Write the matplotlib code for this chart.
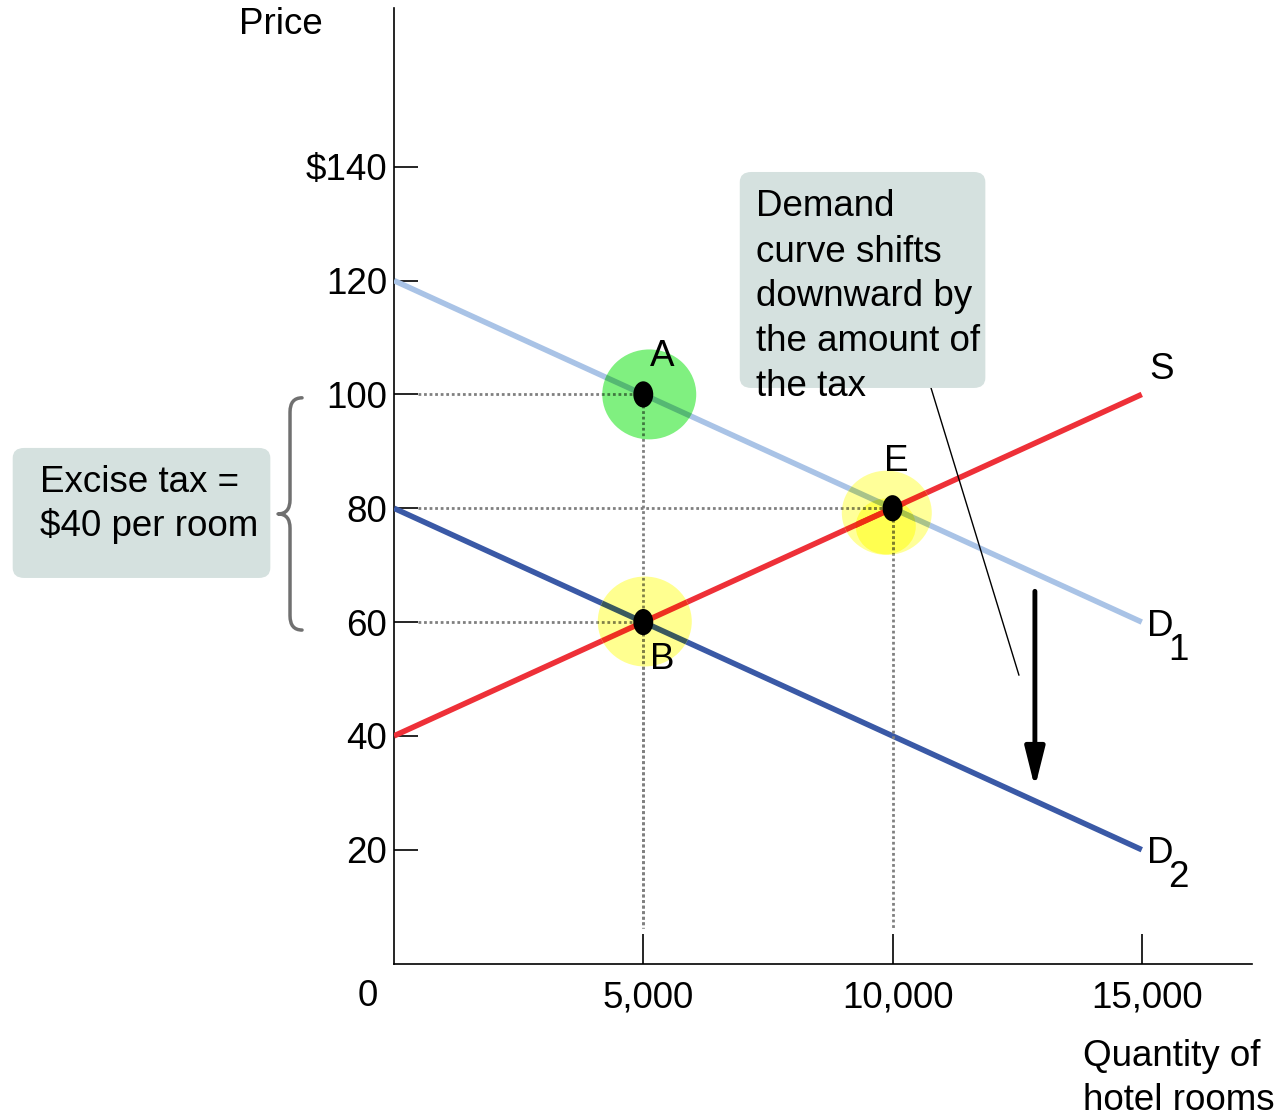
import matplotlib
matplotlib.use("Agg")
import matplotlib.pyplot as plt
import matplotlib.transforms as mtransforms
from matplotlib.colors import to_rgb
from matplotlib.patches import Ellipse, FancyBboxPatch, FancyArrowPatch, PathPatch
from matplotlib.path import Path

plt.rcParams["font.family"] = ["Liberation Sans", "DejaVu Sans"]
FS = 26.5

# --- data -------------------------------------------------------------
quantity = [0, 15000]
demand_before = [120, 60]      # D1
demand_after = [80, 20]        # D2 (shifted down by the tax)
supply = [40, 100]             # S

point_names = ["A", "E", "B"]
point_q = [5000, 10000, 5000]
point_p = [100, 80, 60]

tax = 40

y_ticks = [20, 40, 60, 80, 100, 120, 140]
y_tick_labels = ["20", "40", "60", "80", "100", "120", "$140"]
x_ticks = [5000, 10000, 15000]
x_tick_labels = ["5,000", "10,000", "15,000"]

# --- figure -----------------------------------------------------------
fig = plt.figure(figsize=(12.83, 11.19), dpi=100)
ax = fig.add_axes([0.3071, 0.1389, 0.6687, 0.8540])
ax.set_xlim(0, 17210)
ax.set_ylim(0, 167.9)

for side in ("top", "right"):
    ax.spines[side].set_visible(False)
for side in ("left", "bottom"):
    ax.spines[side].set_linewidth(1.2)
    ax.spines[side].set_color("black")

ax.set_yticks(y_ticks)
ax.set_yticklabels(y_tick_labels, fontsize=FS)
ax.set_xticks(x_ticks)
ax.set_xticklabels(x_tick_labels, fontsize=FS)
ax.tick_params(axis="y", direction="in", length=17, width=1.2, pad=5)
ax.tick_params(axis="x", direction="in", length=21.5, width=1.2, pad=12)
shift = mtransforms.ScaledTranslation(5 / 100, 0, fig.dpi_scale_trans)
for lab in ax.get_xticklabels():
    lab.set_transform(lab.get_transform() + shift)

# every straight stroke: (x, y, colour, width, style)
strokes = [
    (quantity, demand_before, "#a9c3e6", 4, "-"),
    (quantity, demand_after, "#3a59a6", 4, "-"),
    (quantity, supply, "#ee3038", 4, "-"),
]
x_guide_start = 481
y_guide_end = 6.3
for q, p in zip(point_q, point_p):
    strokes.append(([x_guide_start, q], [p, p], "#808080", 2, (0, (1, 1))))
    strokes.append(([q, q], [p, y_guide_end], "#808080", 2, (0, (1, 1))))

for xs, ys, col, lw, ls in strokes:
    ax.plot(xs, ys, color=col, lw=lw, ls=ls, solid_capstyle="butt", zorder=3)

# highlight blobs, blended like a highlighter (multiply) with the strokes
blobs = [
    ((5120, 100.0), 1885, 15.8, "#80f080"),
    ((5030, 60.1), 1886, 15.8, "#ffff90"),
    ((9885, 79.2), 1805, 14.8, "#ffff99"),
    ((9865, 76.8), 1204, 9.8, "#ffff50"),
]


def multiply(c1, c2):
    a, b = to_rgb(c1), to_rgb(c2)
    return tuple(x * y for x, y in zip(a, b))


for center, w, h, col in blobs:
    blob = Ellipse(center, w, h, fc=col, lw=0, zorder=4)
    ax.add_patch(blob)
    for xs, ys, scol, lw, ls in strokes:
        ln, = ax.plot(xs, ys, color=multiply(scol, col), lw=lw, ls=ls,
                      solid_capstyle="butt", zorder=4.1)
        ln.set_clip_path(blob)

# equilibrium points
for q, p in zip(point_q, point_p):
    ax.add_patch(Ellipse((q, p), 400, 4.6, color="black", lw=0, zorder=6))

label_offsets = {"A": (19, 38), "E": (4, 47), "B": (19, -37)}
for name, q, p in zip(point_names, point_q, point_p):
    dx, dy = label_offsets[name]
    ax.annotate(name, (q, p), xytext=(dx, dy), textcoords="offset pixels",
                ha="center", va="center", fontsize=FS, zorder=7)

# curve labels
ax.annotate("S", (quantity[1], supply[1]), xytext=(20, 25),
            textcoords="offset pixels", ha="center", va="center", fontsize=FS)
for lbl, sub, yend in (("D", "1", demand_before[1]), ("D", "2", demand_after[1])):
    ax.annotate(lbl, (quantity[1], yend), xytext=(18, -4),
                textcoords="offset pixels", ha="center", va="center", fontsize=FS)
    ax.annotate(sub, (quantity[1], yend), xytext=(37, -28),
                textcoords="offset pixels", ha="center", va="center", fontsize=FS)

# downward shift arrow
ax.add_patch(FancyArrowPatch((12856, 65.4), (12856, 30.9),
                             arrowstyle="-|>,head_length=1.2,head_width=0.3",
                             mutation_scale=20, lw=3.5, color="black",
                             shrinkA=0, shrinkB=0, zorder=5))

# leader line from the note box
ax.plot([10770, 12535], [101.2, 50.7], color="black", lw=1, zorder=5,
        clip_on=False)

# curly brace spanning the tax (from B up to A)
p_hi, p_lo = point_p[0], point_p[2]
assert p_hi - p_lo == tax
x_end, x_mid, x_tip = -1845, -2086, -2326
y_top, y_bot = p_hi - 0.6, p_lo - 1.4
y_mid = (y_top + y_bot) / 2
r = 2.5
verts = [
    (x_end, y_top), (x_mid, y_top), (x_mid, y_top - r),
    (x_mid, y_mid + r),
    (x_mid, y_mid), (x_tip, y_mid),
    (x_mid, y_mid), (x_mid, y_mid - r),
    (x_mid, y_bot + r),
    (x_mid, y_bot), (x_end, y_bot),
]
codes = [Path.MOVETO, Path.CURVE3, Path.CURVE3,
         Path.LINETO,
         Path.CURVE3, Path.CURVE3,
         Path.CURVE3, Path.CURVE3,
         Path.LINETO,
         Path.CURVE3, Path.CURVE3]
ax.add_patch(PathPatch(Path(verts, codes), fill=False, ec="#707070", lw=2.5,
                       clip_on=False, capstyle="round", joinstyle="round"))

# note boxes
box_color = "#d5e1df"
fig.patches.append(FancyBboxPatch((0.0109 + 0.007, 0.4835 + 0.008), 0.1988 - 0.014,
                                  0.1162 - 0.016,
                                  boxstyle="round,pad=0.008,rounding_size=0.009",
                                  transform=fig.transFigure, fc=box_color, ec="none",
                                  zorder=1))
fig.text(40 / 1283, (1119 - 482) / 1119, "Excise tax =", fontsize=FS,
         ha="left", va="center")
fig.text(40 / 1283, (1119 - 526) / 1119, "$40 per room", fontsize=FS,
         ha="left", va="center")

fig.patches.append(FancyBboxPatch((0.5776 + 0.007, 0.6533 + 0.008), 0.1894 - 0.014,
                                  0.1930 - 0.016,
                                  boxstyle="round,pad=0.008,rounding_size=0.009",
                                  transform=fig.transFigure, fc=box_color, ec="none",
                                  zorder=1))
note_lines = ["Demand", "curve shifts", "downward by", "the amount of", "the tax"]
note_y = [207, 252, 297, 341, 386]
for line, yp in zip(note_lines, note_y):
    fig.text(756 / 1283, (1119 - yp) / 1119, line, fontsize=FS,
             ha="left", va="center", zorder=3)

# axis titles and origin
fig.text(281 / 1283, (1119 - 25) / 1119, "Price", fontsize=FS, ha="center", va="center")
fig.text(368 / 1283, (1119 - 997) / 1119, "0", fontsize=FS, ha="center", va="center")
fig.text(1083 / 1283, (1119 - 1057) / 1119, "Quantity of", fontsize=FS,
         ha="left", va="center")
fig.text(1083 / 1283, (1119 - 1101) / 1119, "hotel rooms", fontsize=FS,
         ha="left", va="center")

fig.savefig("out.png", dpi=100)
